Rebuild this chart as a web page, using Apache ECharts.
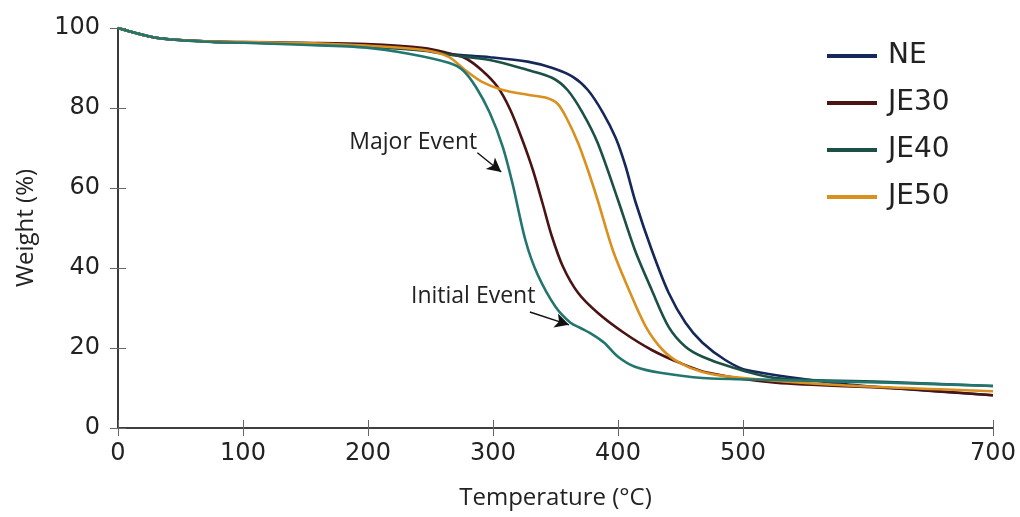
<!DOCTYPE html>
<html>
<head>
<meta charset="utf-8">
<script src="https://cdn.jsdelivr.net/npm/echarts@6/dist/echarts.min.js"></script>
<style>
  html, body { margin: 0; padding: 0; background: #fff; }
  #main { width: 1020px; height: 517px; }
</style>
</head>
<body>
<div id="main"></div>
<script>
// [temperature (°C), weight (%)]
var NE = [[0,100],[31.8,97.5],[74.5,96.6],[100,96.4],[146.8,96.1],[198.7,95.5],[244.7,94.5],[264.5,93.5],[297.4,92.7],[327.7,91.6],[347.6,90],[363.9,87.8],[375.9,84.5],[388,78.8],[398.2,72.5],[406,65.5],[414,56.5],[427,44.5],[440.5,33.8],[454,26.3],[467.6,21.3],[485.8,17],[502.8,14.5],[571.7,11.3],[617.2,10],[700,8.2]];
var JE30 = [[0,100],[31.8,97.5],[74.5,96.6],[100,96.5],[146.8,96.3],[198.7,96],[244.7,95],[264.5,93.7],[277.6,92.5],[290.8,89.5],[303.6,85.3],[313.9,79.5],[323.5,72],[331.9,64.5],[339.8,56],[347,48],[356,40.3],[368,33.8],[383.7,28.8],[404.7,23.8],[427,19.5],[449.3,16.3],[472.3,13.8],[526.2,11.3],[617.2,10],[700,8.2]];
var JE40 = [[0,100],[31.8,97.5],[74.5,96.6],[100,96.4],[146.8,96],[198.7,95.3],[244.7,94.3],[264.5,93.3],[297.4,92],[327.7,89.5],[347.6,87.5],[359.6,84.5],[371.7,78.8],[383.7,71.3],[400,57],[413.5,44.5],[427,34.5],[440.5,25.3],[454,20.3],[467.6,17.8],[489.9,15.3],[526.2,12.5],[617.2,11.5],[700,10.5]];
var JE50 = [[0,100],[31.8,97.5],[74.5,96.6],[100,96.5],[146.8,96.25],[198.7,95.6],[244.7,94.5],[264.5,92.8],[277.6,89.5],[290.8,86.6],[307.8,84.5],[327.7,83.3],[342,82.6],[351.8,81],[359.6,77],[368,71.3],[375.9,64.5],[383.7,57],[395.8,44.5],[408.8,34.5],[422.3,25.3],[435.8,19.5],[449.3,16.3],[467.6,14],[489.9,12.8],[571.7,10.8],[700,9.2]];
// annotated curve (not in the legend)
var EXTRA = [[0,100],[31.8,97.5],[74.5,96.5],[100,96.3],[146.8,95.8],[198.7,95.1],[233.6,93.5],[264.5,91.3],[275.7,89.5],[286.2,85.3],[297.4,78.8],[307.8,70.3],[315.7,61],[325.9,47],[335.5,38.5],[350,30.3],[362,26.3],[370,25],[380,23.3],[389,21.3],[400,17.8],[413.5,15.3],[433.8,13.8],[467.6,12.5],[526.2,12],[617.2,11.3],[700,10.5]];

var xLabels = [0, 100, 200, 300, 400, 500, 700];
var legendNames = ['NE', 'JE30', 'JE40', 'JE50'];

var dom = document.getElementById('main');
var myChart = echarts.init(dom);

var tickFont = 'DejaVu Sans';
var axisColor = '#333';

function curve(name, data, color) {
    return {
        name: name,
        type: 'line',
        data: data,
        smooth: 0.3,
        showSymbol: false,
        lineStyle: { color: color, width: 2.6 },
        itemStyle: { color: color },
        z: 3
    };
}

var extra = curve('annotated', EXTRA, '#23766f');
extra.markLine = {
    silent: true,
    symbol: ['none', 'arrow'],
    symbolSize: [11, 14],
    label: { show: false },
    lineStyle: { color: '#111', width: 1.4, type: 'solid' },
    data: [
        [{ coord: [287.5, 68.8] }, { coord: [306.6, 64] }],
        [{ coord: [329.5, 29] }, { coord: [360.8, 25.8] }]
    ]
};
extra.markPoint = {
    silent: true,
    symbol: 'circle',
    symbolSize: 0,
    label: {
        show: true,
        position: 'left',
        distance: 2,
        color: '#222',
        fontFamily: 'Open Sans',
        fontSize: 23,
        formatter: '{b}'
    },
    data: [
        { name: 'Major Event', coord: [289, 71.5] },
        { name: 'Initial Event', coord: [335.5, 32.8] }
    ]
};

option = {
    animation: false,
    backgroundColor: '#fff',
    grid: { left: 118, right: 27, top: 28, bottom: 89 },
    legend: {
        data: legendNames,
        orient: 'vertical',
        left: 822,
        top: 36,
        icon: 'rect',
        itemWidth: 50,
        itemHeight: 4,
        itemGap: 17,
        textStyle: { fontFamily: tickFont, fontSize: 28, color: '#222', lineHeight: 30, padding: [0, 0, 0, 6] }
    },
    xAxis: [{
        type: 'value',
        min: 0,
        max: 700,
        interval: 100,
        name: 'Temperature (°C)',
        nameLocation: 'middle',
        nameGap: 58,
        nameTextStyle: { fontFamily: 'Open Sans', fontSize: 24, color: '#222' },
        axisLine: { show: true, lineStyle: { color: axisColor, width: 1.6 } },
        axisTick: { show: true, inside: true, length: 8, customValues: xLabels, lineStyle: { color: '#666' } },
        axisLabel: { customValues: xLabels, fontFamily: tickFont, fontSize: 24, color: '#222', margin: 14 },
        splitLine: { show: false }
    }, {
        type: 'value',
        position: 'top',
        min: 0,
        max: 700,
        interval: 100,
        axisLine: { show: true, lineStyle: { color: axisColor, width: 1.6 } },
        axisTick: { show: true, inside: true, length: 8, customValues: xLabels, lineStyle: { color: '#666' } },
        axisLabel: { show: false },
        splitLine: { show: false }
    }],
    yAxis: [{
        type: 'value',
        min: 0,
        max: 100,
        interval: 20,
        name: 'Weight (%)',
        nameLocation: 'middle',
        nameGap: 80,
        nameTextStyle: { fontFamily: 'Open Sans', fontSize: 24, color: '#222' },
        axisLine: { show: true, lineStyle: { color: axisColor, width: 1.6 } },
        axisTick: { show: true, inside: true, length: 8, lineStyle: { color: '#666' } },
        axisLabel: { fontFamily: tickFont, fontSize: 24, color: '#222', margin: 18 },
        splitLine: { show: false }
    }, {
        type: 'value',
        position: 'right',
        min: 0,
        max: 100,
        interval: 20,
        axisLine: { show: true, lineStyle: { color: axisColor, width: 1.6 } },
        axisTick: { show: true, inside: true, length: 8, lineStyle: { color: '#666' } },
        axisLabel: { show: false },
        splitLine: { show: false }
    }],
    series: [
        curve('NE', NE, '#16285a'),
        curve('JE30', JE30, '#4a1414'),
        curve('JE40', JE40, '#1c5046'),
        curve('JE50', JE50, '#d9901f'),
        extra
    ]
};

if (option && typeof option === "object") {
    myChart.setOption(option, true);
}
</script>
</body>
</html>
